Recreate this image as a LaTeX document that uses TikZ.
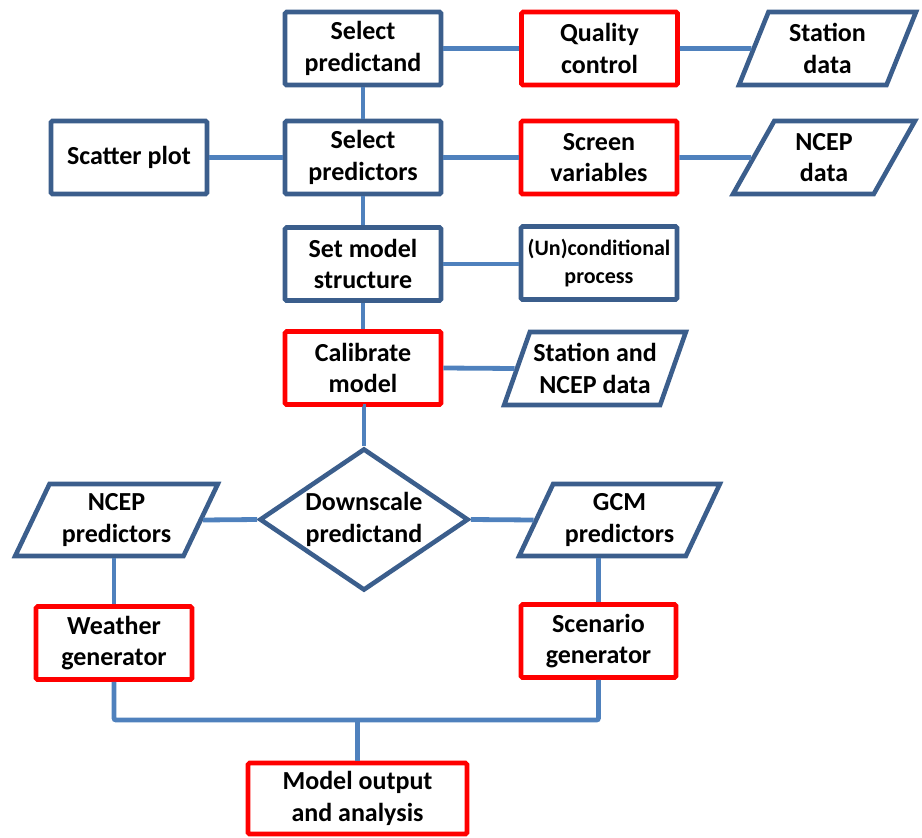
\documentclass[tikz,border=0pt]{standalone}
\usepackage{fontspec}
\setmainfont{Carlito}
\usetikzlibrary{shapes.geometric}
\definecolor{boxblue}{HTML}{3B5E8C}
\definecolor{lineblue}{HTML}{4F81BD}
\definecolor{boxred}{HTML}{FF0000}
\tikzset{
  every node/.style={font=\fontsize{26}{31.5}\selectfont\bfseries, align=center, text=black},
  bluebox/.style={draw=boxblue, line width=4.6pt, rounded corners=1.5pt, minimum width=156pt, minimum height=73pt, inner sep=0pt},
  redbox/.style={bluebox, draw=boxred},
  databox/.style={trapezium, trapezium stretches=true, draw=boxblue, line width=4.6pt, inner sep=0pt, minimum height=73pt},
  decide/.style={diamond, draw=boxblue, line width=4.6pt, inner sep=0pt, aspect=1.46, minimum width=209pt, minimum height=142pt},
  link/.style={draw=lineblue, line width=4.8pt}
}
\begin{document}
\begin{tikzpicture}[x=1pt, y=-1pt]
\useasboundingbox (0,0) rectangle (922,838);
% top row
\node[bluebox] (sp) at (363,48.5) {Select\\predictand};
\node[redbox] (qc) at (599.5,48.5) {Quality\\control};
\node[databox, trapezium left angle=69, trapezium right angle=111, minimum width=177pt] (sd) at (827.5,48.5) {Station\\data};
% second row
\node[bluebox] (scat) at (129,157.5) {Scatter plot};
\node[bluebox] (spr) at (363,157.5) {Select\\predictors};
\node[redbox] (sv) at (599,157.5) {Screen\\variables};
\node[databox, trapezium left angle=64, trapezium right angle=116, minimum width=182pt] (nd) at (824,157.5) {NCEP\\data};
% third row
\node[bluebox] (sms) at (363,264) {Set model\\structure};
\node[bluebox, font=\fontsize{22}{27.5}\selectfont\bfseries] (ucp) at (599,263) {(Un)conditional\\process};
% fourth row
\node[redbox] (cm) at (363,368) {Calibrate\\model};
\node[databox, trapezium left angle=64, trapezium right angle=116, minimum width=182pt] (snd) at (595,368.5) {Station and\\NCEP data};
% decision row
\node[decide] (ds) at (364,519.5) {Downscale\\predictand};
\node[databox, trapezium left angle=62, trapezium right angle=118, minimum width=203pt, minimum height=72pt] (np) at (116.5,520) {NCEP\\predictors};
\node[databox, trapezium left angle=62, trapezium right angle=118, minimum width=201pt, minimum height=72pt] (gp) at (619.5,520) {GCM\\predictors};
% generators
\node[redbox] (wg) at (114,643) {Weather\\generator};
\node[redbox, minimum width=155pt] (sg) at (598.5,641) {Scenario\\generator};
% output
\node[redbox, minimum width=219pt, minimum height=71pt] (mo) at (357.5,798.5) {Model output\\and analysis};
\coordinate (bus) at (0,720);
% connectors
\draw[link] (sp.east) -- (qc.west);
\draw[link] (qc.east) -- (sd.west);
\draw[link] (sp.south) -- (spr.north);
\draw[link] (scat.east) -- (spr.west);
\draw[link] (spr.east) -- (sv.west);
\draw[link] (sv.east) -- (nd.west);
\draw[link] (spr.south) -- (sms.north);
\draw[link] (sms.east) -- (sms.east -| ucp.west);
\draw[link] (sms.south) -- (cm.north);
\draw[link] (cm.east) -- (snd.west);
\draw[link] (cm.south) -- (cm.south -| ds.north) -- (ds.north);
\draw[link] (np.east) -- (ds.west);
\draw[link] (ds.east) -- (gp.west);
\draw[link] (wg.north) -- (wg.north |- np.south);
\draw[link] (sg.north) -- (sg.north |- gp.south);
\draw[link, rounded corners=2pt] (wg.south) -- (wg.south |- bus) -- (sg.south |- bus) -- (sg.south);
\draw[link] (mo.north) -- (mo.north |- bus);
\end{tikzpicture}
\end{document}
